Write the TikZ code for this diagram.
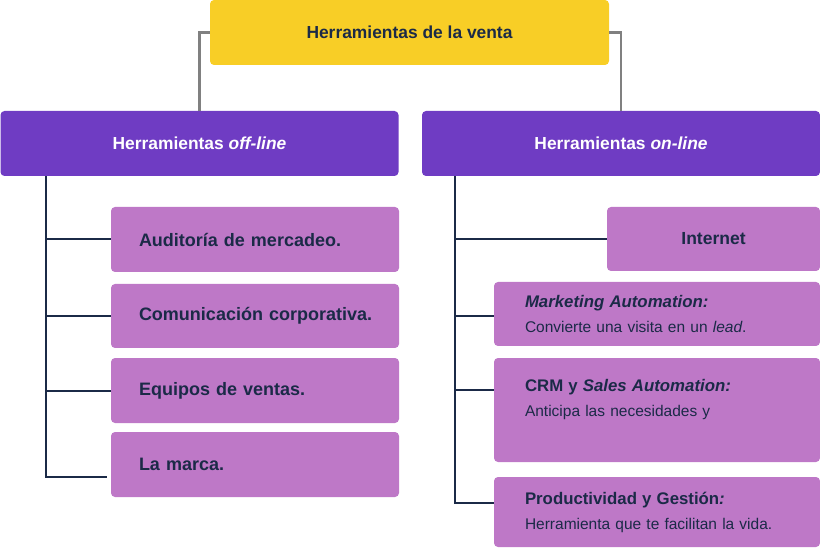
\documentclass[tikz,border=0pt]{standalone}
\usepackage{fontspec}
\setmainfont{Liberation Sans}
\usetikzlibrary{positioning,calc}
\definecolor{rootfill}{HTML}{F8CE26}
\definecolor{headfill}{HTML}{6F3CC3}
\definecolor{itemfill}{HTML}{BE78C7}
\definecolor{txt}{HTML}{1B2A47}
\definecolor{linkc}{HTML}{808080}
\definecolor{treec}{HTML}{1B2A47}
\newcommand\tooltop[1]{{\bfseries\fontsize{16.8}{25}\selectfont #1}}

\begin{document}
\begin{tikzpicture}[
  x=1pt, y=-1pt,
  every node/.style={text=txt},
  basebox/.style={rounded corners=4pt, fill=itemfill, inner sep=0pt, align=left},
  rootbox/.style={basebox, fill=rootfill, minimum width=399pt, minimum height=65pt,
     align=center, font=\bfseries\fontsize{17.4}{20}\selectfont},
  headbox/.style={rootbox, fill=headfill, text=white, minimum width=398pt},
  itembox/.style={basebox, text width=288pt, minimum height=65pt,
     execute at begin node={\leftskip=28pt}, font=\bfseries\fontsize{18}{21}\selectfont},
  toolbox/.style={basebox, text width=326pt, minimum height=64pt,
     execute at begin node={\leftskip=31pt}, font=\fontsize{15.5}{25}\selectfont},
  linkline/.style={draw=linkc, line width=2.5pt},
  treeline/.style={draw=treec, line width=2pt},
]
\useasboundingbox (0,0) rectangle (820,548);
% --- top and heads ---
\node[rootbox] (root) at (409.5,32.5) {Herramientas de la venta};
\node[headbox] (off)  at (199.5,143.5) {Herramientas \textit{off-line}};
\node[headbox] (on)   at (621,143.5)   {Herramientas \textit{on-line}};
% --- off-line items ---
\node[itembox] (aud) at (255,239.5) {Auditoría de mercadeo.};
\node[itembox, minimum height=64pt] (com) at (255,316) {Comunicación corporativa.};
\node[itembox] (equ) at (255,390.5) {Equipos de ventas.};
\node[itembox] (mar) at (255,464.5) {La marca.};
% --- on-line items ---
\node[basebox, minimum width=213pt, minimum height=64pt, align=center,
      font=\bfseries\fontsize{17.5}{20}\selectfont] (int) at (713.5,239) {Internet};
\node[toolbox] (mkt) at (657,314)
  {\tooltop{\textit{Marketing Automation:}}\\Convierte una visita en un \textit{lead}.};
\node[toolbox, minimum height=104pt] (crm) at (657,410)
  {\tooltop{CRM y \textit{Sales Automation:}}\\Anticipa las necesidades y\\~};
\node[toolbox, minimum height=70pt] (prod) at (657,512)
  {\tooltop{Productividad y Gestión\textit{:}}\\Herramienta que te facilitan la vida.};
% --- root -> heads ---
\draw[linkline] (root.west) -| (off.north);
\draw[linkline] (root.east) -| (on.north);
% --- off-line tree ---
\coordinate (lt)   at ($(off.south west)+(46,0)$);
\coordinate (lend) at ($(mar.south west)+(-4,-20)$);
\draw[treeline] (lt) |- (lend);
\foreach \n in {aud,com,equ}
  \draw[treeline] (lt |- \n.west) -- (\n.west);
% --- on-line tree ---
\coordinate (rt)   at ($(on.south west)+(33,0)$);
\coordinate (rcrm) at ($(crm.north west)+(0,32)$);
\coordinate (rend) at ($(prod.north west)+(0,26)$);
\draw[treeline] (rt) |- (rend);
\draw[treeline] (rt |- int.west) -- (int.west);
\draw[treeline] (rt |- mkt.west) ++(0,2) -- ($(mkt.west)+(0,2)$);
\draw[treeline] (rt |- rcrm) -- (rcrm);
\end{tikzpicture}
\end{document}
